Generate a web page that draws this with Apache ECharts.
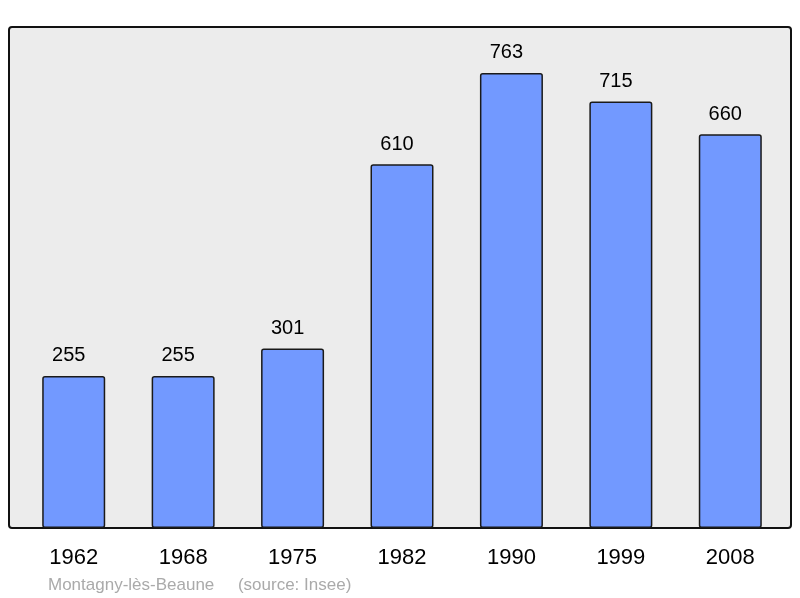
<!DOCTYPE html>
<html>
<head>
<meta charset="utf-8">
<script src="https://cdn.jsdelivr.net/npm/echarts@6/dist/echarts.min.js"></script>
<style>html,body{margin:0;padding:0;background:#fff}#c{width:800px;height:598px}</style>
</head>
<body>
<div id="c"></div>
<script>
const categories = ['1962', '1968', '1975', '1982', '1990', '1999', '2008'];
const population = [255, 255, 301, 610, 763, 715, 660];
const footer = 'Montagny-lès-Beaune     (source: Insee)';

const chart = echarts.init(document.getElementById('c'), null, {renderer: 'canvas'});
chart.setOption({
  animation: false,
  backgroundColor: '#ffffff',
  grid: {left: 19, right: 15, top: 27, bottom: 70},
  graphic: [
    {type: 'rect', z: -10, shape: {x: 9, y: 27, width: 782, height: 501, r: 3},
     style: {fill: '#ececec', stroke: '#111', lineWidth: 2}},
    {type: 'text', left: 48, top: 577,
     style: {text: footer, fill: '#aaaaaa', font: '17px "Liberation Sans", Arial, sans-serif'}}
  ],
  xAxis: {
    type: 'category', data: categories,
    axisLine: {show: false}, axisTick: {show: false},
    axisLabel: {color: '#000', fontSize: 22, fontFamily: '"Liberation Sans", Arial, sans-serif', margin: 19}
  },
  yAxis: {
    type: 'value', min: 0, max: 840,
    show: false, splitLine: {show: false}
  },
  series: [{
    type: 'bar', data: population, barWidth: 63,
    itemStyle: {color: '#7299ff', borderColor: '#1a1a1a', borderWidth: 1.5, borderRadius: 2},
    label: {show: true, position: 'top', distance: 10, offset: [-5, 0], color: '#000', fontSize: 20,
            fontFamily: '"Liberation Sans", Arial, sans-serif'}
  }]
});
</script>
</body>
</html>
